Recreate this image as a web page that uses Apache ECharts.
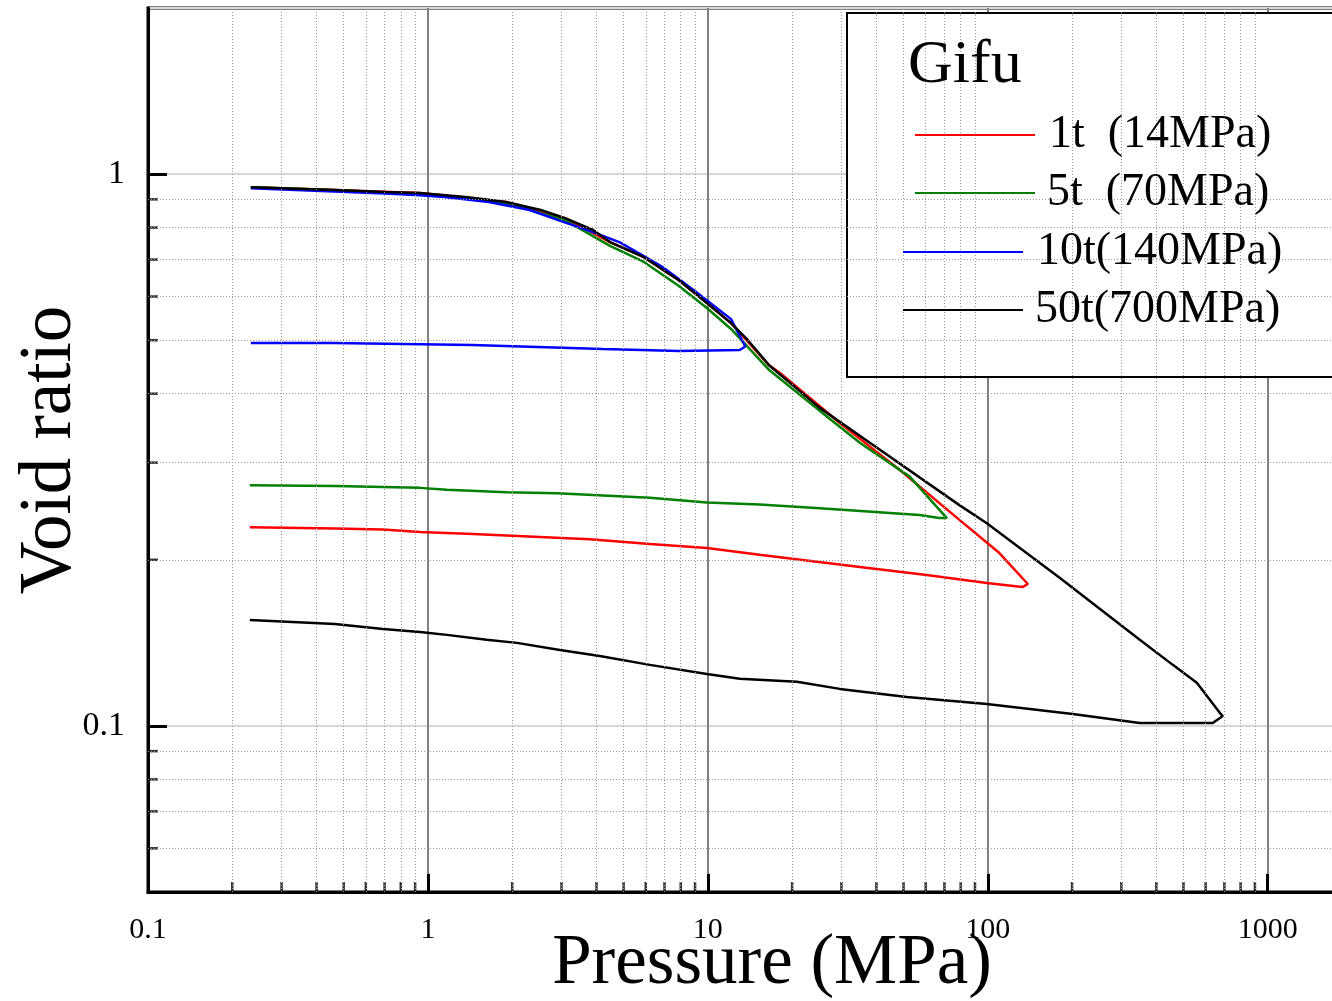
<!DOCTYPE html>
<html><head><meta charset="utf-8">
<script src="https://cdn.jsdelivr.net/npm/echarts@6/dist/echarts.min.js"></script>
<style>html,body{margin:0;padding:0;background:#fff}#c{width:1332px;height:1001px}</style>
</head><body><div id="c"></div>
<script>
// ---- data (pressure MPa, void ratio) ----
const seriesNames = ['1t  (14MPa)', '5t  (70MPa)', '10t(140MPa)', '50t(700MPa)'];
const seriesColors = ['#ff0000', '#008000', '#0000ff', '#000000'];

const red1t = [
  [0.233,0.947],[0.462,0.936],[0.936,0.924],[1.90,0.890],[3.09,0.832],[4.47,0.753],[5.91,0.707],
  [7.88,0.642],[9.92,0.584],[12.1,0.537],[16.5,0.451],[18.1,0.436],[29.6,0.354],[48.5,0.291],
  [79.4,0.236],[110,0.2057],[139,0.1808],[133,0.1785],[99.2,0.1816],[60.5,0.1877],[34.9,0.1941],
  [15.3,0.2042],[9.92,0.210],[6.21,0.2136],[3.79,0.218],[2.51,0.220],
  [1.45,0.2227],[0.936,0.2246],[0.691,0.227],[0.465,0.228],[0.231,0.229]
];
const green5t = [
  [0.233,0.947],[0.462,0.936],[0.936,0.920],[1.90,0.886],[3.09,0.825],[4.47,0.741],[5.91,0.693],
  [7.88,0.627],[9.92,0.572],[12.1,0.524],[16.6,0.441],[27.3,0.360],[34.9,0.326],[52.6,0.283],
  [71.4,0.238],[67.0,0.238],[57.1,0.241],[25.1,0.248],[15.3,0.252],[9.92,0.254],[6.21,0.259],
  [3.89,0.262],[2.89,0.264],[1.91,0.265],[1.169,0.268],[0.936,0.270],[0.691,0.271],[0.465,0.272],
  [0.231,0.273]
];
const blue10t = [
  [0.233,0.943],[0.462,0.930],[0.702,0.922],[0.936,0.916],[1.17,0.908],[1.65,0.890],[2.31,0.861],
  [2.99,0.822],[3.89,0.785],[4.85,0.752],[6.85,0.680],[9.06,0.612],[12.1,0.546],[13.6,0.487],
  [13.0,0.480],[7.88,0.478],[4.22,0.482],[1.44,0.490],[0.462,0.494],[0.233,0.494]
];
const black50t = [
  [0.233,0.947],[0.462,0.936],[0.702,0.928],[0.936,0.924],[1.39,0.908],[1.90,0.890],[2.53,0.861],
  [3.09,0.832],[3.89,0.792],[4.47,0.753],[5.91,0.707],[7.88,0.642],[9.92,0.584],[12.1,0.537],
  [13.9,0.500],[16.5,0.451],[25.1,0.377],[37.9,0.326],[79.4,0.251],[99.2,0.233],[181,0.1854],
  [349,0.1432],[458,0.1290],[558,0.1197],[674,0.1056],[691,0.1042],[636,0.1012],[349,0.1012],
  [201,0.1051],[99.2,0.1096],[51.4,0.1128],[29.6,0.1167],[20.8,0.1202],[13.0,0.1217],[9.92,0.1242],
  [6.21,0.1290],[4.11,0.1339],[2.96,0.1373],[2.08,0.1414],[1.62,0.1432],[1.169,0.1462],[0.936,0.1480],
  [0.691,0.1498],[0.465,0.1530],[0.231,0.1556]
];
const seriesData = [red1t, green5t, blue10t, black50t];

const xTickValues = [0.1, 1, 10, 100, 1000];
const xTickLabels = ['0.1', '1', '10', '100', '1000'];
const yTickValues = [0.1, 1];
const yTickLabels = ['0.1', '1'];
const xMinorValues = [0.2,0.3,0.4,0.5,0.6,0.7,0.8,0.9, 2,3,4,5,6,7,8,9, 20,30,40,50,60,70,80,90, 200,300,400,500,600,700,800,900];
const yMinorValues = [0.06,0.07,0.08,0.09, 0.2,0.3,0.4,0.5,0.6,0.7,0.8,0.9];
const legendTitle = 'Gifu';
const xName = 'Pressure (MPa)';
const yName = 'Void ratio';

// ---- chart ----
const SERIF = '"Liberation Serif", "Times New Roman", serif';
function lookup(vals, labels, v) {
  for (let i = 0; i < vals.length; i++) if (Math.abs(Math.log10(v) - Math.log10(vals[i])) < 1e-6) return labels[i];
  return '';
}
const chart = echarts.init(document.getElementById('c'), null, {renderer: 'canvas'});

const legendLeft = [915, 915, 903, 903];
const legendTop = [112, 170, 229, 287];
const legendPad = [9, 7, 9, 7];

const option = {
  animation: false,
  backgroundColor: '#fff',
  grid: {left: 148, top: 8, right: -20, bottom: 109, show: true, borderColor: '#000', borderWidth: 3,
         containLabel: false, outerBoundsMode: 'none'},
  xAxis: {
    type: 'log', logBase: 10, min: 0.1, max: 2000,
    axisLine: {lineStyle: {color: '#000', width: 3}},
    axisTick: {inside: true, length: 18, lineStyle: {color: '#000', width: 3}},
    axisLabel: {margin: 23, fontFamily: SERIF, fontSize: 30, color: '#000', showMaxLabel: false,
                formatter: v => lookup(xTickValues, xTickLabels, v)},
    splitLine: {show: true, lineStyle: {color: '#808080', width: 2}},
    name: xName, nameLocation: 'middle', nameGap: 37, nameMoveOverlap: false,
    nameTextStyle: {fontFamily: SERIF, fontSize: 71, color: '#000', padding: [0, 0, 0, 44]}
  },
  yAxis: {
    type: 'log', logBase: 10, min: 0.05, max: 2,
    axisLine: {lineStyle: {color: '#000', width: 3}},
    axisTick: {inside: true, length: 19, lineStyle: {color: '#000', width: 3}},
    axisLabel: {margin: 23, fontFamily: SERIF, fontSize: 34, color: '#000', showMinLabel: false, showMaxLabel: false,
                formatter: v => lookup(yTickValues, yTickLabels, v)},
    splitLine: {show: true, lineStyle: {color: '#d8d8d8', width: 2}},
    name: yName, nameLocation: 'middle', nameGap: 61, nameMoveOverlap: false,
    nameTextStyle: {fontFamily: SERIF, fontSize: 73, color: '#000'}
  },
  legend: seriesNames.map((n, i) => ({
    data: [n], left: legendLeft[i], top: legendTop[i], padding: 0, orient: 'horizontal',
    icon: 'rect', itemWidth: 120, itemHeight: 2, selectedMode: false, z: 6,
    textStyle: {fontFamily: SERIF, fontSize: 46, color: '#000', padding: [0, 0, 0, legendPad[i]]}
  })),
  graphic: [
    {type: 'rect', z: 5, silent: true, shape: {x: 847, y: 13, width: 520, height: 364},
     style: {fill: '#fff', stroke: '#000', lineWidth: 2}},
    {type: 'text', z: 7, silent: true,
     style: {text: legendTitle, x: 908, y: 66, font: '62px ' + SERIF, fill: '#000', verticalAlign: 'middle', textVerticalAlign: 'middle'}}
  ],
  series: [
    {
      name: 'minor-grid', type: 'line', data: [], silent: true, z: 1,
      markLine: {
        silent: true, symbol: ['none', 'none'], label: {show: false}, animation: false,
        lineStyle: {color: '#9a9a9a', type: [1, 2], width: 1},
        emphasis: {disabled: true},
        data: xMinorValues.map(v => ({xAxis: v})).concat(yMinorValues.map(v => ({yAxis: v})))
      }
    },
    {
      name: 'x-minor-ticks', type: 'scatter', silent: true, z: 4,
      symbol: 'rect', symbolSize: [2.5, 10], symbolOffset: [0, -5],
      itemStyle: {color: '#000'},
      data: xMinorValues.map(v => [v, 0.05])
    },
    {
      name: 'y-minor-ticks', type: 'scatter', silent: true, z: 4,
      symbol: 'rect', symbolSize: [10, 2.5], symbolOffset: [5, 0],
      itemStyle: {color: '#000'},
      data: yMinorValues.map(v => [0.1, v])
    }
  ].concat(seriesNames.map((n, i) => ({
    name: n, type: 'line', data: seriesData[i], symbol: 'none', showSymbol: false, z: 3,
    color: seriesColors[i],
    lineStyle: {color: seriesColors[i], width: 2.5},
    emphasis: {disabled: true}
  })))
};
chart.setOption(option);
</script>
</body></html>
